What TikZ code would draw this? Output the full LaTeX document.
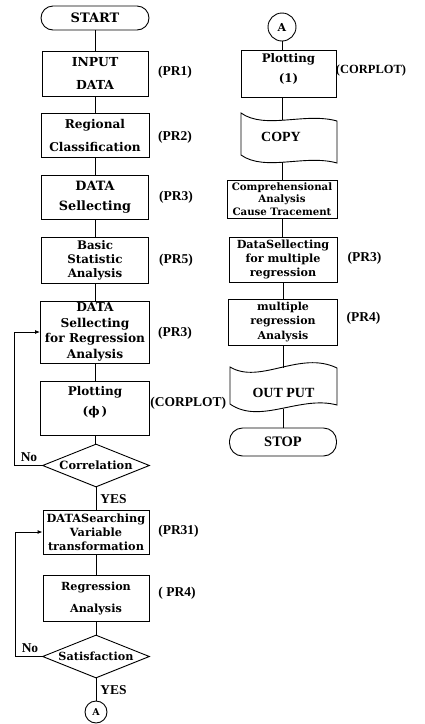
\documentclass[tikz,border=0pt]{standalone}
\usepackage{fontspec}
\setmainfont{DejaVu Serif}
\newfontfamily\labfont{Liberation Serif}
\usetikzlibrary{shapes.geometric,arrows.meta}
\newcommand\myfs[2]{\fontsize{#1}{#2}\selectfont}
\begin{document}
\begin{tikzpicture}[x=1pt,y=-1pt,line width=0.9pt,
  box/.style={draw,rectangle,inner sep=0pt,align=center},
  term/.style={draw,rectangle,rounded corners=12pt,inner sep=0pt,align=center},
  dia/.style={draw,diamond,inner sep=0pt,aspect=2.5,minimum width=107pt,minimum height=43pt},
  conn/.style={draw,circle,inner sep=0pt},
  lab/.style={inner sep=0pt,font=\labfont\bfseries\myfs{13.5}{15}},
  loop/.style={-{Latex[length=5pt,width=4pt]}}]
\useasboundingbox (0,0) rectangle (424,724);

% ---------- left column ----------
\node[term,minimum width=108pt,minimum height=24pt,font=\bfseries\myfs{13}{15}] (start) at (95,18) {START};
\node[box,minimum width=106pt,minimum height=45pt,font=\bfseries\myfs{12.4}{23}] (in) at (95,73.5) {INPUT\\DATA};
\node[box,minimum width=108pt,minimum height=44pt,font=\bfseries\myfs{12.1}{23}] (reg) at (95,135) {Regional\\Classification};
\node[box,minimum width=107pt,minimum height=44pt,font=\bfseries\myfs{12.8}{20}] (sel) at (95,197) {DATA\\Sellecting};
\node[box,minimum width=107pt,minimum height=46pt,font=\bfseries\myfs{11.8}{14}] (basic) at (95,260) {Basic\\Statistic\\Analysis};
\node[box,minimum width=109pt,minimum height=62pt,font=\bfseries\myfs{12.2}{15.5}] (selreg) at (95,332) {DATA\\Sellecting\\for Regression\\Analysis};
\node[box,minimum width=109pt,minimum height=54pt,text depth=14pt,font=\bfseries\myfs{12}{20}] (plot0) at (95,408) {Plotting\\(ϕ\,)};
\node[dia,font=\bfseries\myfs{11.4}{13}] (corr) at (96,465.5) {Correlation};
\node[box,minimum width=106pt,minimum height=44pt,font=\bfseries\myfs{11.3}{14}] (search) at (96,532) {DATASearching\\Variable\\transformation};
\node[box,minimum width=106pt,minimum height=46pt,font=\bfseries\myfs{11.2}{22}] (regan) at (96,598) {Regression\\Analysis};
\node[dia,font=\bfseries\myfs{11.2}{13}] (sat) at (96,656.5) {Satisfaction};
\node[conn,minimum size=22pt,font=\bfseries\myfs{9.5}{10}] (A1) at (96,712) {A};

\node[lab] (l1) at (175,72) {(PR1)};
\node[lab] (l2) at (175,137) {(PR2)};
\node[lab] (l3) at (176,197) {(PR3)};
\node[lab] (l5) at (176,260) {(PR5)};
\node[lab] (l3b) at (175,333) {(PR3)};
\node[lab,anchor=west] (lcp) at (150,403) {(CORPLOT)};
\node[lab] (l31) at (178.5,531) {(PR31)};
\node[lab] (l4) at (177,593) {( PR4)};
\node[lab] (no1) at (29,457) {No};
\node[lab] (no2) at (30,648) {No};
\node[lab,anchor=west] (yes1) at (100,499) {YES};
\node[lab,anchor=west] (yes2) at (100,690) {YES};

% ---------- right column ----------
\node[conn,minimum size=28pt,font=\bfseries\myfs{11}{12}] (A2) at (282,27) {A};
\node[box,minimum width=95pt,minimum height=47pt,text depth=10pt,font=\bfseries\myfs{11.8}{20}] (plot1) at (288.5,73.5) {Plotting\\(1)};
\draw (241,113) .. controls (265,130) and (305,112) .. (337,121) coordinate[pos=0.5] (copytop)
  -- (337,163) .. controls (305,154) and (265,172) .. (241,155) coordinate[pos=0.5] (copybot) -- cycle;
\node[lab,font=\labfont\bfseries\myfs{14}{15}] (copy) at (281,137) {COPY};
\node[box,minimum width=110pt,minimum height=38pt,font=\bfseries\myfs{10.2}{12.5}] (comp) at (282,199) {Comprehensional\\Analysis\\Cause Tracement};
\node[box,minimum width=108pt,minimum height=45pt,font=\bfseries\myfs{11.2}{14}] (dsel) at (283,259.5) {DataSellecting\\for multiple\\regression};
\node[box,minimum width=109pt,minimum height=46pt,font=\bfseries\myfs{11}{14.5}] (mult) at (283,322) {multiple\\regression\\Analysis};
\draw (230,367) .. controls (260,385) and (300,350) .. (337,368) coordinate[pos=0.5] (outtop)
  -- (337,405) .. controls (300,395) and (260,425) .. (230,404) coordinate[pos=0.5] (outbot) -- cycle;
\node[lab,font=\labfont\bfseries\myfs{14}{15}] (out) at (283.5,393) {OUT PUT};
\node[term,minimum width=107pt,minimum height=28pt,rounded corners=13pt,font=\labfont\bfseries\myfs{14.5}{16}] (stop) at (283,442) {STOP};

\node[lab,font=\labfont\bfseries\myfs{12.5}{15}] (rcp) at (371,70) {(CORPLOT)};
\node[lab] (r3) at (364.5,258) {(PR3)};
\node[lab] (r4) at (363.5,318) {(PR4)};

% ---------- connectors ----------
\draw (start.south) -- (in.north);
\draw (in.south) -- (reg.north);
\draw (reg.south) -- (sel.north);
\draw (sel.south) -- (basic.north);
\draw (basic.south) -- (selreg.north);
\draw (selreg.south) -- (plot0.north);
\draw (plot0.south) -- (plot0.south |- corr.north);
\draw (corr.south) -- (corr.south |- search.north);
\draw (search.south) -- (regan.north);
\draw (regan.south) -- (sat.north);
\draw (sat.south) -- (A1.north);
\draw[loop] (corr.west) -- ++(-28,0) |- (selreg.west);
\draw[loop] (sat.west) -- ++(-27,0) |- (search.west);

\draw (A2.south) -- (A2.south |- plot1.north);
\draw (A2 |- plot1.south) -- (A2 |- copytop);
\draw (A2 |- copybot) -- (comp.north);
\draw (comp.south) -- (comp.south |- dsel.north);
\draw (dsel.south) -- (mult.north);
\draw (mult.south) -- (mult.south |- outtop);
\draw (mult.south |- outbot) -- (stop.north);
\end{tikzpicture}
\end{document}
